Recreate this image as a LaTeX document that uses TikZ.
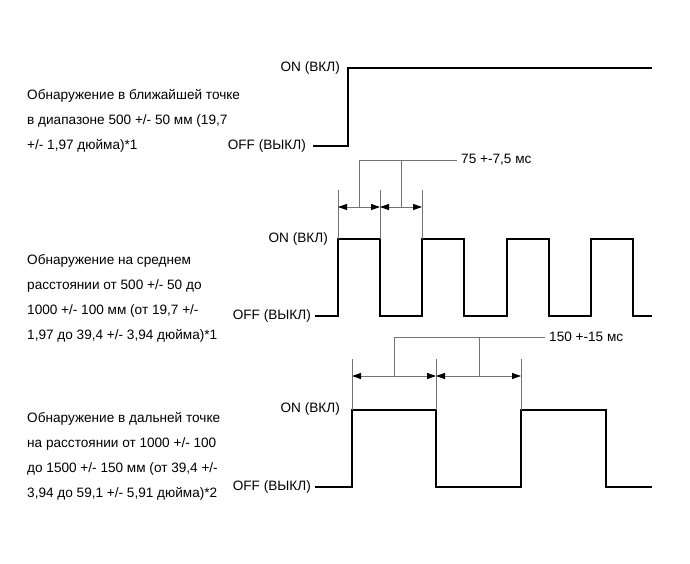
\documentclass[tikz,border=0pt]{standalone}
\usepackage{fontspec}
\setmainfont{Liberation Sans}
\usetikzlibrary{arrows.meta}
\tikzset{
  sigline/.style={line width=1.7pt,line join=miter},
  extline/.style={line width=0.9pt,black!55},
  dimline/.style={line width=0.9pt,black!55,
    {Triangle[length=9pt,width=6pt,black]}-{Triangle[length=9pt,width=6pt,black]}},
  leadline/.style={line width=0.9pt,black!55},
  levellabel/.style={anchor=east,inner sep=1pt,font=\fontsize{13.6}{15}\selectfont},
  desctext/.style={anchor=base west,align=left,inner sep=0pt,font=\fontsize{13.6}{25}\selectfont},
  timelabel/.style={anchor=west,inner sep=4pt,font=\fontsize{13.6}{15}\selectfont}
}

\begin{document}
\begin{tikzpicture}[x=1pt,y=-1pt]
  \useasboundingbox (0,0) rectangle (690,564);

  % near point
  \node[desctext] (near) at (27,150) {Обнаружение в ближайшей точке\\в диапазоне 500 +/- 50 мм (19,7\\+/- 1,97 дюйма)*1};
  \node[levellabel] (on1) at (341,68) {ON (ВКЛ)};
  \node[levellabel] (off1) at (307,146) {OFF (ВЫКЛ)};
  \draw[sigline] (313,146) -- (348,146) -- (348,68) -- (652,68);

  % middle range
  \node[desctext] (mid) at (27,339) {Обнаружение на среднем\\расстоянии от 500 +/- 50 до\\1000 +/- 100 мм (от 19,7 +/-\\1,97 до 39,4 +/- 3,94 дюйма)*1};
  \node[levellabel] (on2) at (329,239) {ON (ВКЛ)};
  \node[levellabel] (off2) at (312,316) {OFF (ВЫКЛ)};
  \draw[sigline] (315,316) -- (338,316) -- (338,239) -- (380,239) -- (380,316)
    -- (422,316) -- (422,239) -- (464,239) -- (464,316) -- (507,316) -- (507,239)
    -- (549,239) -- (549,316) -- (591,316) -- (591,239) -- (633,239) -- (633,316) -- (652,316);
  \foreach \xx in {338,380,422}
    \draw[extline] (\xx,190) -- (\xx,239);
  \coordinate (m1) at (359,207);
  \coordinate (m2) at (401,207);
  \draw[dimline] (338,207) -- (380,207);
  \draw[dimline] (380,207) -- (422,207);
  \node[timelabel] (t75) at (457,160) {75 +-7,5 мс};
  \draw[leadline] (m1) |- (t75.west);
  \draw[leadline] (m2) -- (m2 |- t75.west);

  % far point
  \node[desctext] (far) at (27,497) {Обнаружение в дальней точке\\на расстоянии от 1000 +/- 100\\до 1500 +/- 150 мм (от 39,4 +/-\\3,94 до 59,1 +/- 5,91 дюйма)*2};
  \node[levellabel] (on3) at (341,409) {ON (ВКЛ)};
  \node[levellabel] (off3) at (312,487) {OFF (ВЫКЛ)};
  \draw[sigline] (315,487) -- (352,487) -- (352,410) -- (436,410) -- (436,487)
    -- (521,487) -- (521,410) -- (606,410) -- (606,487) -- (652,487);
  \foreach \xx in {352,436,521}
    \draw[extline] (\xx,359) -- (\xx,410);
  \coordinate (f1) at (394,376);
  \coordinate (f2) at (479,376);
  \draw[dimline] (352,376) -- (436,376);
  \draw[dimline] (436,376) -- (521,376);
  \node[timelabel] (t150) at (545,337) {150 +-15 мс};
  \draw[leadline] (f1) |- (t150.west);
  \draw[leadline] (f2) -- (f2 |- t150.west);
\end{tikzpicture}
\end{document}
